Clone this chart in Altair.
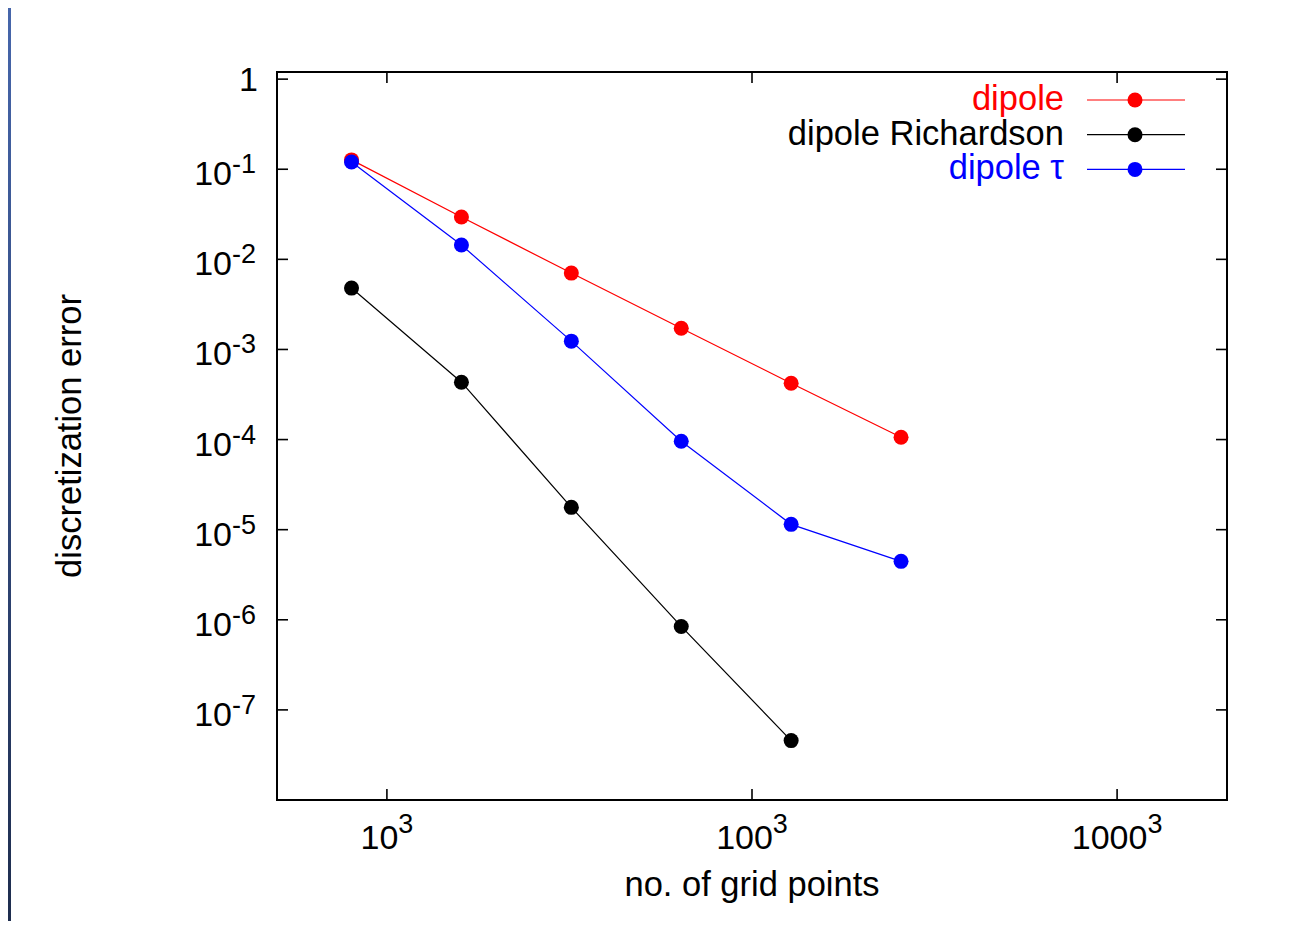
import altair as alt
import pandas as pd

# ---- data ----
grid_points = [512, 4096, 32768, 262144, 2097152, 16777216]          # N^3, N = 8 ... 256
err_dipole = [0.127, 0.0295, 0.00704, 0.00172, 4.22e-4, 1.06e-4]
err_richardson = [4.80e-3, 4.33e-4, 1.77e-5, 8.43e-7, 4.56e-8]
err_tau = [0.1205, 0.01442, 1.236e-3, 9.57e-5, 1.146e-5, 4.45e-6]

series_names = ["dipole", "dipole Richardson", "dipole τ"]
series_colors = ["#ff0000", "#000000", "#0000ff"]
series_values = [err_dipole, err_richardson, err_tau]

x_tick_values = [1e3, 1e6, 1e9]
x_tick_bases = ["10", "100", "1000"]
x_tick_exp = "3"
y_tick_values = [1, 1e-1, 1e-2, 1e-3, 1e-4, 1e-5, 1e-6, 1e-7]
y_tick_exps = ["", "-1", "-2", "-3", "-4", "-5", "-6", "-7"]

x_title = "no. of grid points"
y_title = "discretization error"

# ---- styling ----
W, H = 950, 728
FONT = "Liberation Sans"
TICK_FS = 34
EXP_FS = 27
TXT_FS = 34.5
TICK_LEN = 11

xscale = alt.Scale(type="log", domain=[125, 8e9])
yscale = alt.Scale(type="log", domain=[1e-8, 1.2])

layers = []

# background strip of the slide template
strip = alt.Chart(pd.DataFrame({"a": [0]})).mark_rect(
    color=alt.LinearGradient(
        gradient="linear",
        stops=[alt.GradientStop(color="#4666ab", offset=0),
               alt.GradientStop(color="#1e2d4e", offset=1)],
        x1=0, x2=0, y1=0, y2=1,
    )
).encode(x=alt.value(-269), x2=alt.value(-266), y=alt.value(-64), y2=alt.value(H + 121))
layers.append(strip)

# ticks (inward, mirrored)
yt = pd.DataFrame({"v": y_tick_values, "exp": y_tick_exps, "base": ["1" if e == "" else "10" for e in y_tick_exps]})
xt = pd.DataFrame({"v": x_tick_values, "base": x_tick_bases})

layers.append(alt.Chart(yt).mark_rule(color="black", strokeWidth=1.6).encode(
    y=alt.Y("v:Q", scale=yscale, axis=None), x=alt.value(0), x2=alt.value(TICK_LEN)))
layers.append(alt.Chart(yt).mark_rule(color="black", strokeWidth=1.6).encode(
    y=alt.Y("v:Q", scale=yscale, axis=None), x=alt.value(W - TICK_LEN), x2=alt.value(W)))
layers.append(alt.Chart(xt).mark_rule(color="black", strokeWidth=1.6).encode(
    x=alt.X("v:Q", scale=xscale, axis=None), y=alt.value(H - TICK_LEN), y2=alt.value(H)))
layers.append(alt.Chart(xt).mark_rule(color="black", strokeWidth=1.6).encode(
    x=alt.X("v:Q", scale=xscale, axis=None), y=alt.value(0), y2=alt.value(TICK_LEN)))

# y tick labels with superscripts
yt_pow = yt[yt["exp"] != ""]
yt_one = yt[yt["exp"] == ""]
layers.append(alt.Chart(yt_pow).mark_text(align="right", baseline="alphabetic", dy=16,
                                          font=FONT, fontSize=TICK_FS, color="black").encode(
    y=alt.Y("v:Q", scale=yscale, axis=None), x=alt.value(-45), text="base:N"))
layers.append(alt.Chart(yt_pow).mark_text(align="left", baseline="alphabetic", dy=4,
                                          font=FONT, fontSize=EXP_FS, color="black").encode(
    y=alt.Y("v:Q", scale=yscale, axis=None), x=alt.value(-45), text="exp:N"))
layers.append(alt.Chart(yt_one).mark_text(align="right", baseline="alphabetic", dy=11.4,
                                          font=FONT, fontSize=TICK_FS, color="black").encode(
    y=alt.Y("v:Q", scale=yscale, axis=None), x=alt.value(-19), text="base:N"))

# x tick labels with superscripts (whole label centred on the tick)
DIGIT = 0.556
for val, base in zip(x_tick_values, x_tick_bases):
    wb = DIGIT * TICK_FS * len(base)
    we = DIGIT * EXP_FS * len(x_tick_exp)
    d = pd.DataFrame({"v": [val], "base": [base], "exp": [x_tick_exp]})
    layers.append(alt.Chart(d).mark_text(align="left", baseline="alphabetic", dx=-(wb + we) / 2,
                                         font=FONT, fontSize=TICK_FS, color="black").encode(
        x=alt.X("v:Q", scale=xscale, axis=None), y=alt.value(H + 49.3), text="base:N"))
    layers.append(alt.Chart(d).mark_text(align="left", baseline="alphabetic", dx=(wb - we) / 2,
                                         font=FONT, fontSize=EXP_FS, color="black").encode(
        x=alt.X("v:Q", scale=xscale, axis=None), y=alt.value(H + 33), text="exp:N"))

# axis titles
layers.append(alt.Chart(pd.DataFrame({"t": [x_title]})).mark_text(
    align="center", baseline="alphabetic", font=FONT, fontSize=TXT_FS, color="black").encode(
    x=alt.value(W / 2), y=alt.value(H + 96), text="t:N"))
layers.append(alt.Chart(pd.DataFrame({"t": [y_title]})).mark_text(
    align="center", baseline="alphabetic", angle=270, font=FONT, fontSize=TXT_FS, color="black").encode(
    x=alt.value(-196), y=alt.value(H / 2), text="t:N"))

# data series: line then points, drawn in order
for name, col, vals in zip(series_names, series_colors, series_values):
    d = pd.DataFrame({"n": grid_points[:len(vals)], "err": vals})
    base = alt.Chart(d).encode(x=alt.X("n:Q", scale=xscale, axis=None),
                               y=alt.Y("err:Q", scale=yscale, axis=None))
    layers.append(base.mark_line(color=col, strokeWidth=1.2))
    layers.append(base.mark_circle(color=col, size=225, opacity=1))

# legend (gnuplot style: label, then sample)
for i, (name, col) in enumerate(zip(series_names, series_colors)):
    ry = 28 + 34.7 * i
    d = pd.DataFrame({"t": [name]})
    layers.append(alt.Chart(d).mark_text(align="right", baseline="middle", font=FONT,
                                         fontSize=TXT_FS, color=col).encode(
        x=alt.value(787), y=alt.value(ry), text="t:N"))
    layers.append(alt.Chart(d).mark_rule(color=col, strokeWidth=1.2).encode(
        x=alt.value(810), x2=alt.value(908), y=alt.value(ry)))
    layers.append(alt.Chart(d).mark_circle(color=col, size=225, opacity=1).encode(
        x=alt.value(858), y=alt.value(ry)))

chart = alt.layer(*layers).properties(
    width=W, height=H,
    autosize=alt.AutoSizeParams(type="none"),
    padding={"left": 269, "top": 64, "right": 61, "bottom": 121},
    background="white",
).configure_view(stroke="black", strokeWidth=2)

chart.save("out.html", embed_options={"renderer": "svg", "actions": False})
